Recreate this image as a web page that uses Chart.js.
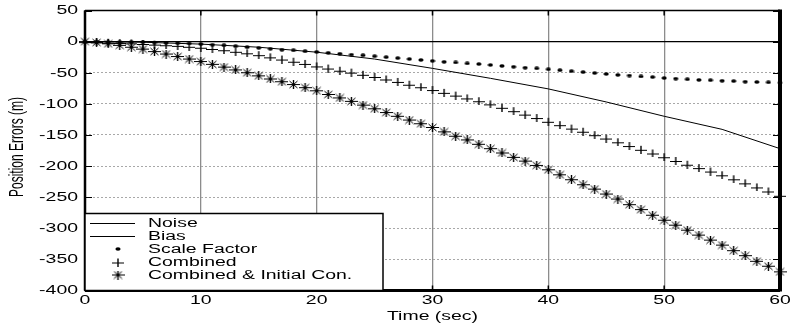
<!DOCTYPE html>
<html>
<head>
<meta charset="utf-8">
<script src="https://cdn.jsdelivr.net/npm/chart.js@4/dist/chart.umd.min.js"></script>
<style>
  html, body { margin: 0; padding: 0; background: #fff; }
  #wrap { width: 794px; height: 329px; }
</style>
</head>
<body>
<div id="wrap"><canvas id="chart" width="794" height="329"></canvas></div>
<script>
/* ---- data (seconds / metres) ---- */
const T_LINE = [0, 5, 10, 15, 20, 25, 30, 35, 40, 45, 50, 55, 60];
const NOISE = [0, 0, 0, 0, 0, 0, 0, 0, 0, 0, 0, 0, 0];
const BIAS = [0, -1, -4, -9, -17, -28, -43, -59, -76, -97, -120, -141, -172];

const T_MARK = [0, 1, 2, 3, 4, 5, 6, 7, 8, 9, 10, 11, 12, 13, 14, 15, 16, 17, 18, 19, 20,
  21, 22, 23, 24, 25, 26, 27, 28, 29, 30, 31, 32, 33, 34, 35, 36, 37, 38, 39, 40,
  41, 42, 43, 44, 45, 46, 47, 48, 49, 50, 51, 52, 53, 54, 55, 56, 57, 58, 59, 60];
const SCALE_FACTOR = [0, 0, -0.5, -0.5, -1, -1, -1.5, -2, -2.5, -3, -4, -5, -6, -7.5, -9, -10,
  -11.5, -13, -14, -15.5, -16.5, -18, -19.5, -21, -22, -23.5, -25, -26.5, -28, -29.5, -31,
  -32.5, -33.5, -35, -36, -37.5, -39, -40.5, -42, -43, -44.5, -46, -47.5, -49, -50.5, -52,
  -53.5, -54.5, -56, -57, -58.5, -59.5, -60.5, -61.5, -62, -63, -63.5, -64.5, -65, -65.5, -66];
const COMBINED = [0, -0.5, -1, -1.5, -2, -3, -4, -5, -6, -7.5, -9, -11, -13, -15.5, -18, -21,
  -24.5, -28, -31.5, -35, -39, -42.5, -46, -49, -52.5, -56, -60, -64, -68.5, -72.5, -77,
  -81.5, -86, -90.5, -95, -100, -105.5, -111, -116.5, -122, -128, -133.5, -139, -144, -149.5,
  -155, -161, -167, -173, -179, -185, -191, -197, -202.5, -208, -214, -220.5, -227, -233.5,
  -240, -247];
const COMBINED_INIT = [0, -1.5, -3.5, -6, -9, -12, -16, -20, -24, -28, -32, -36.5, -41, -45.5,
  -50, -55, -60, -64.5, -69, -74, -79, -85, -90.5, -96, -102, -108, -114, -120, -126, -132,
  -138, -145, -152, -158, -165, -172, -179, -186, -192, -199, -206, -214, -222, -230, -237,
  -245, -253, -262, -270, -279, -287, -295, -303, -311, -319, -327, -336, -344, -353, -361, -370];

const X_TICKS = [0, 10, 20, 30, 40, 50, 60];
const Y_TICKS = [50, 0, -50, -100, -150, -200, -250, -300, -350, -400];
const LEGEND_LABELS = ['Noise', 'Bias', 'Scale Factor', 'Combined', 'Combined & Initial Con.'];

const FONT = "12px 'Liberation Sans', Arial, Helvetica, sans-serif";
const SX = 1.62;            // the original figure is stretched sideways
const pts = (xs, ys) => xs.map((x, i) => ({ x, y: ys[i] }));

/* ---- wide markers, drawn once on small canvases ---- */
function marker(w, h, draw) {
  const c = document.createElement('canvas');
  c.width = w; c.height = h;
  const g = c.getContext('2d');
  g.strokeStyle = '#000'; g.fillStyle = '#000';
  draw(g, w, h);
  return c;
}
const DOT = marker(6, 4, (g) => { g.beginPath(); g.ellipse(3, 2, 2.6, 1.7, 0, 0, Math.PI * 2); g.fill(); });
const PLUS = marker(12, 9, (g) => {
  g.lineWidth = 1;
  g.beginPath(); g.moveTo(0, 5.5); g.lineTo(12, 5.5); g.stroke();
  g.lineWidth = 1.4;
  g.beginPath(); g.moveTo(6, 1); g.lineTo(6, 9); g.stroke();
});
const STAR = marker(13, 9, (g) => {
  g.lineWidth = 1;
  g.beginPath();
  g.moveTo(0, 4.5); g.lineTo(13, 4.5);
  g.moveTo(2.5, 1); g.lineTo(10.5, 8);
  g.moveTo(2.5, 8); g.lineTo(10.5, 1);
  g.stroke();
  g.lineWidth = 1.4;
  g.beginPath(); g.moveTo(6.5, 0); g.lineTo(6.5, 9); g.stroke();
});

function wideText(ctx, str, x, y, align) {
  ctx.save();
  ctx.translate(x, y);
  ctx.scale(SX, 1);
  ctx.textAlign = align;
  ctx.fillText(str, 0, 0);
  ctx.restore();
}

/* ---- MATLAB-style box, inward ticks and all axis text ---- */
const boxPlugin = {
  id: 'box',
  afterDatasetsDraw(chart) {
    const { ctx, chartArea: a, scales } = chart;
    ctx.save();
    ctx.strokeStyle = '#000';
    ctx.lineWidth = 1.5;
    X_TICKS.forEach((v) => {
      const x = scales.x.getPixelForValue(v);
      ctx.beginPath();
      ctx.moveTo(x, a.bottom); ctx.lineTo(x, a.bottom - 5);
      ctx.moveTo(x, a.top); ctx.lineTo(x, a.top + 5);
      ctx.stroke();
    });
    ctx.lineWidth = 1;
    Y_TICKS.forEach((v) => {
      const y = Math.round(scales.y.getPixelForValue(v)) + 0.5;
      ctx.beginPath();
      ctx.moveTo(a.left, y); ctx.lineTo(a.left + 7, y);
      ctx.moveTo(a.right, y); ctx.lineTo(a.right - 7, y);
      ctx.stroke();
    });
    ctx.lineWidth = 1.5;
    ctx.beginPath(); ctx.moveTo(a.left, a.top); ctx.lineTo(a.right, a.top); ctx.stroke();
    ctx.lineWidth = 2.5;
    ctx.beginPath(); ctx.moveTo(a.left, a.top); ctx.lineTo(a.left, a.bottom); ctx.stroke();
    ctx.lineWidth = 3;
    ctx.beginPath(); ctx.moveTo(a.left, a.bottom); ctx.lineTo(a.right, a.bottom); ctx.stroke();
    ctx.lineWidth = 4;
    ctx.beginPath(); ctx.moveTo(a.right, a.top - 1); ctx.lineTo(a.right, a.bottom + 1); ctx.stroke();

    // tick labels and titles
    ctx.fillStyle = '#000';
    ctx.font = FONT;
    ctx.textBaseline = 'middle';
    Y_TICKS.forEach((v) => wideText(ctx, String(v), a.left - 7, scales.y.getPixelForValue(v) + 0.5, 'right'));
    X_TICKS.forEach((v) => wideText(ctx, String(v), scales.x.getPixelForValue(v), 301, 'center'));
    wideText(ctx, 'Time (sec)', (a.left + a.right) / 2, 316.5, 'center');
    ctx.save();
    ctx.translate(17.5, 147);
    ctx.scale(SX, 1);
    ctx.rotate(-Math.PI / 2);
    ctx.textAlign = 'center';
    ctx.fillText('Position Errors (m)', 0, 0);
    ctx.restore();
    ctx.restore();
  },
};

/* ---- legend box in the lower-left corner of the plot ---- */
const legendPlugin = {
  id: 'boxLegend',
  afterDraw(chart) {
    const { ctx, chartArea: a } = chart;
    const rowH = 13;
    const x0 = a.left;
    const x1 = 383;
    const y0 = 213.5;
    ctx.save();
    ctx.fillStyle = '#fff';
    ctx.fillRect(x0, y0, x1 - x0, a.bottom - y0);
    ctx.strokeStyle = '#000';
    ctx.lineWidth = 1.5;
    ctx.strokeRect(x0, y0, x1 - x0, a.bottom - y0);
    ctx.font = FONT;
    ctx.textBaseline = 'middle';
    ctx.fillStyle = '#000';
    chart.data.datasets.forEach((ds, i) => {
      const y = 223 + rowH * i;
      if (ds.showLine) {
        ctx.lineWidth = 1;
        ctx.beginPath(); ctx.moveTo(x0 + 5, y + 0.5); ctx.lineTo(x0 + 50, y + 0.5); ctx.stroke();
      } else {
        const img = ds.pointStyle;
        ctx.drawImage(img, x0 + 33 - img.width / 2, y - img.height / 2);
      }
      wideText(ctx, LEGEND_LABELS[i], x0 + 63, y + 0.5, 'left');
    });
    ctx.restore();
  },
};

new Chart(document.getElementById('chart'), {
  type: 'scatter',
  data: {
    datasets: [
      { label: LEGEND_LABELS[0], data: pts(T_LINE, NOISE), showLine: true, borderColor: '#000',
        borderWidth: 1.2, pointRadius: 0 },
      { label: LEGEND_LABELS[1], data: pts(T_LINE, BIAS), showLine: true, borderColor: '#000',
        borderWidth: 1, pointRadius: 0 },
      { label: LEGEND_LABELS[2], data: pts(T_MARK, SCALE_FACTOR), showLine: false, pointStyle: DOT,
        pointRadius: 3, clip: 8 },
      { label: LEGEND_LABELS[3], data: pts(T_MARK, COMBINED), showLine: false, pointStyle: PLUS,
        pointRadius: 5, clip: 8 },
      { label: LEGEND_LABELS[4], data: pts(T_MARK, COMBINED_INIT), showLine: false, pointStyle: STAR,
        pointRadius: 5, clip: 8 },
    ],
  },
  options: {
    responsive: false,
    animation: false,
    layout: { padding: { top: 10.5, right: 14, bottom: 0, left: 0 } },
    plugins: { legend: { display: false }, tooltip: { enabled: false } },
    scales: {
      x: {
        type: 'linear', min: 0, max: 60,
        afterBuildTicks: (s) => { s.ticks = X_TICKS.map((v) => ({ value: v })); },
        afterFit: (s) => { s.height = 38.5; },
        grid: { color: '#8c8c8c', lineWidth: 1.3, drawTicks: false },
        border: { display: false },
        ticks: { display: false },
      },
      y: {
        type: 'linear', min: -400, max: 50,
        afterBuildTicks: (s) => { s.ticks = Y_TICKS.map((v) => ({ value: v })); },
        afterFit: (s) => { s.width = 85; },
        grid: { color: '#a8a8a8', lineWidth: 1, drawTicks: false },
        border: { display: false, dash: [2, 2] },
        ticks: { display: false },
      },
    },
  },
  plugins: [boxPlugin, legendPlugin],
});
</script>
</body>
</html>
